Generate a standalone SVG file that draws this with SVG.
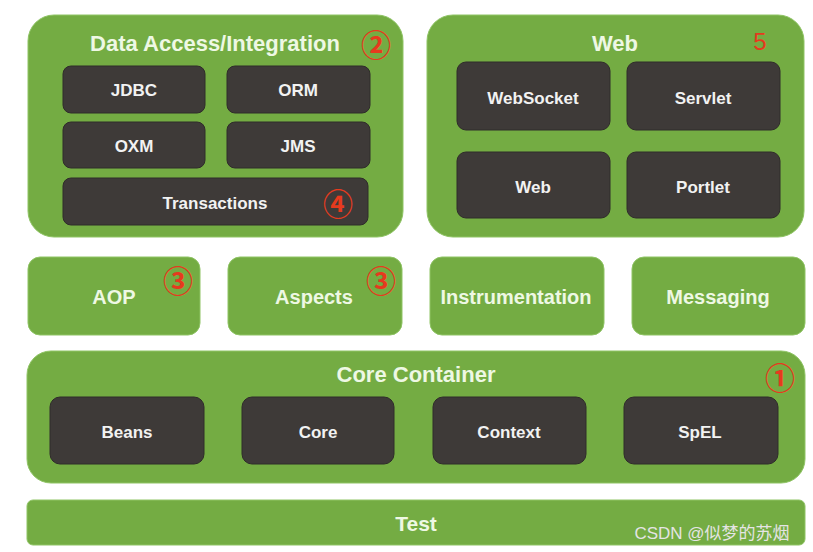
<svg xmlns="http://www.w3.org/2000/svg" width="813" height="552" viewBox="0 0 813 552">
<style>
.g{fill:#74ac43;stroke:#8fc465;stroke-width:1}
.d{fill:#3e3a38;stroke:#2f2c2a;stroke-width:1}
.gt{font-family:"Liberation Sans",Arial,sans-serif;font-weight:bold;fill:#eef8e4;text-anchor:middle;dominant-baseline:central}
.dt{font-family:"Liberation Sans",Arial,sans-serif;font-weight:bold;fill:#f2f2f2;text-anchor:middle;dominant-baseline:central;font-size:17px}
.n{font-family:"Noto Sans CJK SC","DejaVu Sans",sans-serif;font-weight:bold;fill:#e63a1e;text-anchor:middle;dominant-baseline:central;font-size:30px}
</style>
<rect width="813" height="552" fill="#ffffff"/>
<g id="data-access">
<rect class="g" x="28" y="15" width="375" height="222" rx="26"/>
<text class="gt" x="215" y="43" font-size="22">Data Access/Integration</text>
<text class="n" x="376" y="43">②</text>
<g id="jdbc"><rect class="d" x="63" y="66" width="142" height="47" rx="8"/><text class="dt" x="134" y="90">JDBC</text></g>
<g id="orm"><rect class="d" x="227" y="66" width="143" height="47" rx="8"/><text class="dt" x="298" y="90">ORM</text></g>
<g id="oxm"><rect class="d" x="63" y="122" width="142" height="46" rx="8"/><text class="dt" x="134" y="146">OXM</text></g>
<g id="jms"><rect class="d" x="227" y="122" width="143" height="46" rx="8"/><text class="dt" x="298" y="146">JMS</text></g>
<g id="transactions"><rect class="d" x="63" y="178" width="305" height="47" rx="8"/><text class="dt" x="215" y="203">Transactions</text><text class="n" x="338" y="202">④</text></g>
</g>
<g id="web">
<rect class="g" x="427" y="15" width="377" height="222" rx="26"/>
<text class="gt" x="615" y="43" font-size="22">Web</text>
<text x="760" y="41" font-family="'Liberation Sans',Arial,sans-serif" font-size="24" fill="#e63a1e" text-anchor="middle" dominant-baseline="central">5</text>
<g id="websocket"><rect class="d" x="457" y="62" width="153" height="68" rx="9"/><text class="dt" x="533" y="98">WebSocket</text></g>
<g id="servlet"><rect class="d" x="627" y="62" width="153" height="68" rx="9"/><text class="dt" x="703" y="98">Servlet</text></g>
<g id="web-inner"><rect class="d" x="457" y="152" width="153" height="66" rx="9"/><text class="dt" x="533" y="187">Web</text></g>
<g id="portlet"><rect class="d" x="627" y="152" width="153" height="66" rx="9"/><text class="dt" x="703" y="187">Portlet</text></g>
</g>
<g id="aop"><rect class="g" x="28" y="257" width="172" height="78" rx="12"/><text class="gt" x="114" y="297" font-size="20">AOP</text><text class="n" x="178" y="279">③</text></g>
<g id="aspects"><rect class="g" x="228" y="257" width="174" height="78" rx="12"/><text class="gt" x="314" y="297" font-size="20">Aspects</text><text class="n" x="381" y="279">③</text></g>
<g id="instrumentation"><rect class="g" x="430" y="257" width="174" height="78" rx="12"/><text class="gt" x="516" y="297" font-size="20">Instrumentation</text></g>
<g id="messaging"><rect class="g" x="632" y="257" width="173" height="78" rx="12"/><text class="gt" x="718" y="297" font-size="20">Messaging</text></g>
<g id="core-container">
<rect class="g" x="27" y="351" width="778" height="132" rx="24"/>
<text class="gt" x="416" y="374" font-size="22">Core Container</text>
<text class="n" x="780" y="376">①</text>
<g id="beans"><rect class="d" x="50" y="397" width="154" height="67" rx="10"/><text class="dt" x="127" y="432">Beans</text></g>
<g id="core"><rect class="d" x="242" y="397" width="152" height="67" rx="10"/><text class="dt" x="318" y="432">Core</text></g>
<g id="context"><rect class="d" x="433" y="397" width="153" height="67" rx="10"/><text class="dt" x="509" y="432">Context</text></g>
<g id="spel"><rect class="d" x="624" y="397" width="154" height="67" rx="10"/><text class="dt" x="700" y="432">SpEL</text></g>
</g>
<g id="test"><rect class="g" x="27" y="500" width="778" height="45" rx="6"/><text class="gt" x="416" y="523" font-size="21">Test</text></g>
<g id="connectors"></g>
<text x="712" y="533" font-family="'Liberation Sans','Noto Sans CJK SC',sans-serif" font-size="17" fill="#e4e4e4" text-anchor="middle" dominant-baseline="central">CSDN @似梦的苏烟</text>
</svg>
